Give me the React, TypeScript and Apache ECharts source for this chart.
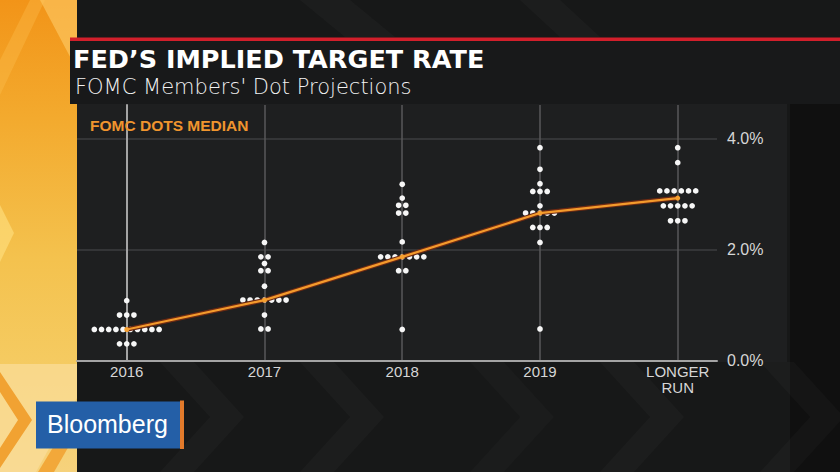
import React, { useEffect, useRef } from 'react';
import * as echarts from 'echarts';

// ---- data ----
const categories = ['2016', '2017', '2018', '2019', 'LONGER\nRUN'];
const categoryTicks = [0, 1, 2, 3, 4];
const yTicks = [0, 2, 4];
// each row: [rate %, number of dots]
const dots2016 = [[1.08, 1], [0.82, 3], [0.56, 10], [0.3, 3]];
const dots2017 = [[2.13, 1], [1.87, 2], [1.75, 1], [1.62, 2], [1.34, 1], [1.09, 7], [0.82, 1], [0.57, 2]];
const dots2018 = [[3.18, 1], [2.93, 1], [2.8, 2], [2.66, 2], [2.14, 1], [1.87, 7], [1.62, 2], [0.56, 1]];
const dots2019 = [[3.84, 1], [3.45, 1], [3.19, 1], [3.05, 3], [2.79, 1], [2.66, 5], [2.4, 3], [2.13, 1], [0.57, 1]];
const dotsLongerRun = [[3.84, 1], [3.57, 1], [3.06, 6], [2.79, 5], [2.52, 3]];
const medians = [0.56, 1.09, 1.87, 2.66, 2.93];

const DOT_GAP = 7.2;
const DOT_R = 2.85;

function chevron(x: number, y0: number, y1: number, depth: number, thick: number, fill: string) {
  const mid = (y0 + y1) / 2;
  return {
    type: 'polygon',
    z: -5,
    silent: true,
    shape: {
      points: [
        [x, y0], [x + depth, mid], [x, y1], [x + thick, y1], [x + depth + thick, mid], [x + thick, y0],
      ],
    },
    style: { fill },
  };
}

export default function App() {
  const ref = useRef<HTMLDivElement>(null);
  useEffect(() => {
    const chart = echarts.init(ref.current!, null, { renderer: 'svg' });
    const allRows = [dots2016, dots2017, dots2018, dots2019, dotsLongerRun];
    const dotData = allRows.flatMap((rows, i) => rows.map(([v, n]) => [i, v, n]));
    const medianData = medians.map((v, i) => [i, v]);

    const bgElements: any[] = [
      // left yellow band
      {
        type: 'rect', z: -8, silent: true,
        shape: { x: 0, y: 0, width: 77, height: 472 },
        style: {
          fill: new echarts.graphic.LinearGradient(0, 0, 0, 1, [
            { offset: 0, color: '#f29418' },
            { offset: 0.25, color: '#f3aa2e' },
            { offset: 0.55, color: '#f4c24e' },
            { offset: 0.78, color: '#f5cb62' },
            { offset: 1, color: '#f6d27c' },
          ]),
        },
      },
      { type: 'polygon', z: -7, silent: true, shape: { points: [[40, 0], [77, 0], [77, 70]] }, style: { fill: 'rgba(255,214,120,0.5)' } },
      { type: 'polygon', z: -7, silent: true, shape: { points: [[0, 60], [30, 0], [45, 0], [0, 95]] }, style: { fill: 'rgba(255,200,90,0.3)' } },
      { type: 'polygon', z: -7, silent: true, shape: { points: [[0, 205], [14, 233], [0, 262]] }, style: { fill: 'rgba(255,225,130,0.6)' } },
      { type: 'polygon', z: -7, silent: true, shape: { points: [[0, 364], [77, 364], [77, 398], [36, 472], [0, 472]] }, style: { fill: 'rgba(250,222,160,0.65)' } },
      { type: 'polygon', z: -6, silent: true, shape: { points: [[0, 372], [32, 420], [0, 468], [0, 448], [18, 420], [0, 392]] }, style: { fill: '#f1a232' } },
      { type: 'polygon', z: -6, silent: true, shape: { points: [[38, 472], [77, 408], [77, 432], [54, 472]] }, style: { fill: '#f2a83a' } },
      // top dark stripes
      { type: 'polygon', z: -7, silent: true, shape: { points: [[300, 0], [350, 0], [395, 37], [345, 37]] }, style: { fill: 'rgba(255,255,255,0.025)' } },
      { type: 'polygon', z: -7, silent: true, shape: { points: [[520, 0], [560, 0], [600, 37], [560, 37]] }, style: { fill: 'rgba(255,255,255,0.022)' } },
      // right darker edge
      { type: 'rect', z: -7, silent: true, shape: { x: 790, y: 104, width: 50, height: 368 }, style: { fill: 'rgba(0,0,0,0.3)' } },
      // bottom chevrons
      chevron(160, 362, 472, 50, 34, 'rgba(255,255,255,0.022)'),
      chevron(300, 362, 472, 50, 34, 'rgba(255,255,255,0.022)'),
      chevron(470, 362, 472, 50, 34, 'rgba(255,255,255,0.02)'),
      chevron(600, 362, 472, 50, 34, 'rgba(255,255,255,0.022)'),
      chevron(760, 362, 472, 50, 34, 'rgba(255,255,255,0.022)'),
      // chart panel
      { type: 'rect', z: -4, silent: true, shape: { x: 77, y: 104, width: 710, height: 258 }, style: { fill: '#1e1f20' } },
      // header bar
      { type: 'rect', z: -4, silent: true, shape: { x: 70, y: 41, width: 770, height: 63 }, style: { fill: '#18191a' } },
      // red rule
      { type: 'rect', z: -3, silent: true, shape: { x: 70, y: 37.5, width: 770, height: 3.5 }, style: { fill: '#d21f2b' } },
      // texts
      {
        type: 'text', z: 20, silent: true, x: 73, y: 59,
        style: { text: 'FED\u2019S IMPLIED TARGET RATE', fill: '#ffffff', fontSize: 25.5, fontWeight: 'bold', fontFamily: '"DejaVu Sans", sans-serif', verticalAlign: 'middle', align: 'left' },
      },
      {
        type: 'text', z: 20, silent: true, x: 75, y: 86.5,
        style: { text: "FOMC Members' Dot Projections", fill: '#f2f2f2', fontSize: 21, fontWeight: 200, fontFamily: '"DejaVu Sans", sans-serif', verticalAlign: 'middle', align: 'left' },
      },
      {
        type: 'text', z: 20, silent: true, x: 90, y: 125,
        style: { text: 'FOMC DOTS MEDIAN', fill: '#f0952e', fontSize: 15.5, fontWeight: 'bold', fontFamily: '"Liberation Sans", Arial, sans-serif', verticalAlign: 'middle', align: 'left' },
      },
      // Bloomberg logo
      { type: 'rect', z: 15, silent: true, shape: { x: 36, y: 401.5, width: 144, height: 47 }, style: { fill: '#245fa7' } },
      { type: 'rect', z: 15, silent: true, shape: { x: 180, y: 400.5, width: 4, height: 48.5 }, style: { fill: '#e27a2b' } },
      {
        type: 'text', z: 20, silent: true, x: 47, y: 424,
        style: { text: 'Bloomberg', fill: '#ffffff', fontSize: 25, fontFamily: '"Liberation Sans", Arial, sans-serif', verticalAlign: 'middle', align: 'left' },
      },
    ];

    chart.setOption({
      animation: false,
      backgroundColor: '#171818',
      graphic: { elements: bgElements },
      grid: { left: 77, right: 123, top: 105, bottom: 111.5 },
      xAxis: {
        type: 'value',
        min: -0.361,
        max: 4.285,
        axisLine: { show: true, onZero: false, lineStyle: { color: '#a4a4a4', width: 2 } },
        axisTick: { show: false, customValues: categoryTicks },
        axisLabel: {
          customValues: categoryTicks,
          formatter: (v: number) => categories[Math.round(v)] ?? '',
          color: '#d6d6d6',
          fontSize: 15,
          lineHeight: 16,
          margin: 3,
          fontFamily: '"Liberation Sans", Arial, sans-serif',
        },
        splitLine: { show: true, lineStyle: { color: '#58595a', width: 1.5 } },
      },
      yAxis: {
        type: 'value',
        position: 'right',
        min: 0,
        max: 4.61,
        axisLine: { show: true, lineStyle: { color: '#a4a4a4', width: 2 } },
        axisTick: { show: false, customValues: yTicks },
        axisLabel: {
          customValues: yTicks,
          formatter: (v: number) => v.toFixed(1) + '%',
          color: '#d6d6d6',
          fontSize: 16,
          margin: 10,
          fontFamily: '"Liberation Sans", Arial, sans-serif',
        },
        splitLine: { show: true, lineStyle: { color: '#3d3e3f', width: 1.5 } },
      },
      series: [
        {
          type: 'custom',
          z: 3,
          data: dotData,
          encode: { x: 0, y: 1 },
          renderItem: (params: any, api: any) => {
            const c = api.coord([api.value(0), api.value(1)]);
            const n = api.value(2);
            const children: any[] = [];
            for (let j = 0; j < n; j++) {
              children.push({
                type: 'circle',
                shape: { cx: c[0] + (j - (n - 1) / 2) * DOT_GAP, cy: c[1], r: DOT_R },
                style: { fill: '#f6f6f6' },
              });
            }
            return { type: 'group', children };
          },
        },
        {
          type: 'line',
          z: 4,
          data: medianData,
          symbol: 'none',
          lineStyle: { color: '#6e2a12', width: 4.5 },
          silent: true,
        },
        {
          type: 'line',
          z: 5,
          data: medianData,
          symbol: 'circle',
          symbolSize: 5,
          itemStyle: { color: '#f5a030' },
          lineStyle: { color: '#f39a2c', width: 2.2 },
          silent: true,
        },
      ],
    });
    return () => chart.dispose();
  }, []);
  return <div ref={ref} style={{ position: 'fixed', left: 0, top: 0, width: 840, height: 472 }} />;
}
